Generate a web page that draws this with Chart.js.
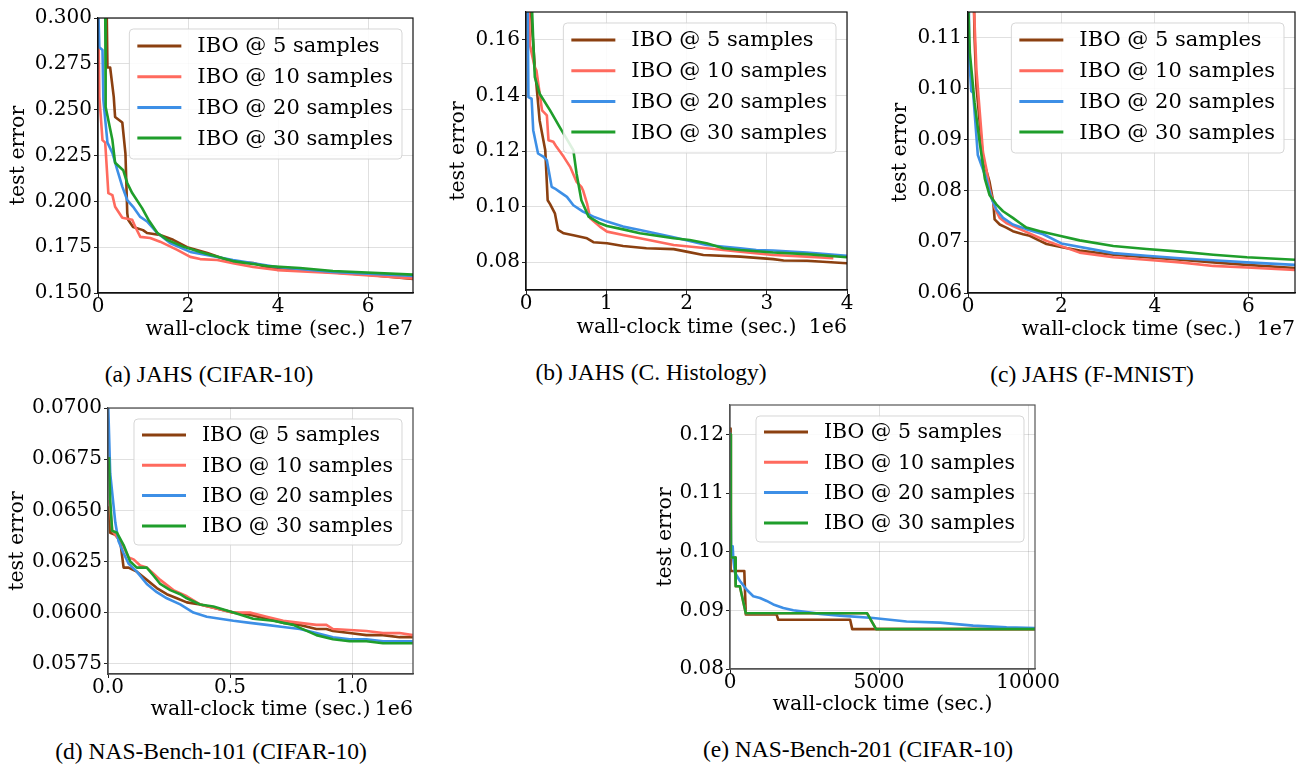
<!DOCTYPE html>
<html>
<head>
<meta charset="utf-8">
<script src="https://cdn.jsdelivr.net/npm/chart.js@4.4.1/dist/chart.umd.min.js"></script>
<style>
  html, body { margin: 0; padding: 0; background: #fff; }
  body { width: 1298px; height: 766px; position: relative; overflow: hidden; }
  canvas { position: absolute; }
  .cap { position: absolute; font-family: 'Liberation Serif', 'Times New Roman', serif; font-size: 23.5px;
         line-height: 24px; white-space: nowrap; transform: translateX(-50%); color: #000; }
</style>
</head>
<body>
<div class="cap" style="left:209px; top:362px">(a) JAHS (CIFAR-10)</div>
<div class="cap" style="left:651px; top:360px">(b) JAHS (C. Histology)</div>
<div class="cap" style="left:1092px; top:362px">(c) JAHS (F-MNIST)</div>
<div class="cap" style="left:211px; top:739px">(d) NAS-Bench-101 (CIFAR-10)</div>
<div class="cap" style="left:858px; top:737px">(e) NAS-Bench-201 (CIFAR-10)</div>

<script>
// 系列名と色
const seriesLabels = ['IBO @ 5 samples', 'IBO @ 10 samples', 'IBO @ 20 samples', 'IBO @ 30 samples'];
const seriesColors = ['#8b4010', '#ff6a5e', '#3d8fe6', '#1f9e2b'];

// (a) JAHS CIFAR-10 (時間は 1e7 秒単位)
const aTime5  = [0.19, 0.21, 0.27, 0.35, 0.38, 0.54, 0.61, 0.65, 0.67, 0.78, 1.0, 1.09, 1.38, 1.67, 1.98, 2.43, 3.0, 3.45, 3.76, 4.49, 5.98, 7.0];
const aErr5   = [0.31, 0.273, 0.273, 0.257, 0.246, 0.243, 0.226, 0.1936, 0.190, 0.186, 0.1843, 0.1827, 0.1816, 0.179, 0.175, 0.1718, 0.1669, 0.1663, 0.164, 0.1625, 0.160, 0.1576];
const aTime10 = [0.0, 0.03, 0.10, 0.16, 0.23, 0.32, 0.38, 0.54, 0.76, 0.83, 0.94, 1.16, 1.38, 1.76, 2.05, 2.27, 2.65, 3.0, 3.45, 3.98, 5.22, 7.0];
const aErr10  = [0.31, 0.257, 0.2334, 0.232, 0.2045, 0.2034, 0.197, 0.191, 0.190, 0.186, 0.1806, 0.180, 0.178, 0.1735, 0.1697, 0.1685, 0.168, 0.1663, 0.1642, 0.1625, 0.161, 0.158];
const aTime20 = [0.0, 0.03, 0.10, 0.12, 0.21, 0.32, 0.43, 0.54, 0.65, 0.78, 0.94, 1.09, 1.32, 1.60, 2.05, 2.65, 3.0, 3.98, 5.22, 7.0];
const aErr20  = [0.31, 0.284, 0.2825, 0.255, 0.232, 0.2264, 0.217, 0.208, 0.2007, 0.197, 0.1915, 0.189, 0.1827, 0.1773, 0.1724, 0.1696, 0.168, 0.1642, 0.1615, 0.1593];
const aTime30 = [0.16, 0.17, 0.32, 0.38, 0.56, 0.65, 0.76, 0.98, 1.12, 1.32, 1.54, 1.89, 2.27, 3.0, 3.76, 4.49, 5.22, 7.0];
const aErr30  = [0.31, 0.2515, 0.2334, 0.221, 0.217, 0.210, 0.2045, 0.1963, 0.190, 0.1827, 0.179, 0.1753, 0.1724, 0.1674, 0.1647, 0.1636, 0.162, 0.160];
const aXTicks = [0, 2, 4, 6];
const aYTicks = [0.150, 0.175, 0.200, 0.225, 0.250, 0.275, 0.300];

// (b) JAHS C. Histology (1e6 秒単位)
const bTime5  = [0.05, 0.11, 0.17, 0.24, 0.27, 0.30, 0.36, 0.40, 0.47, 0.59, 0.76, 0.84, 1.01, 1.21, 1.50, 1.84, 2.0, 2.21, 2.67, 3.08, 3.21, 3.50, 4.0];
const bErr5   = [0.175, 0.1502, 0.1310, 0.1203, 0.1023, 0.1009, 0.0976, 0.0916, 0.0904, 0.0897, 0.0886, 0.0872, 0.0868, 0.0858, 0.0850, 0.0847, 0.0838, 0.0826, 0.0820, 0.0811, 0.0806, 0.0805, 0.0796];
const bTime10 = [0.03, 0.05, 0.11, 0.13, 0.20, 0.26, 0.28, 0.34, 0.38, 0.47, 0.55, 0.63, 0.69, 0.71, 0.76, 0.80, 0.92, 1.01, 1.21, 1.42, 1.84, 2.25, 2.67, 3.08, 3.50, 3.83];
const bErr10  = [0.175, 0.158, 0.150, 0.149, 0.1346, 0.1328, 0.1239, 0.1233, 0.1215, 0.1179, 0.1143, 0.1089, 0.1071, 0.1059, 0.1012, 0.0958, 0.0928, 0.0910, 0.0898, 0.0886, 0.0862, 0.0850, 0.0838, 0.0826, 0.0820, 0.0814];
const bTime20 = [0.02, 0.03, 0.07, 0.09, 0.15, 0.22, 0.26, 0.32, 0.36, 0.42, 0.51, 0.59, 0.71, 0.84, 1.01, 1.21, 1.42, 1.84, 2.25, 2.67, 2.87, 3.08, 3.50, 4.0];
const bErr20  = [0.175, 0.1394, 0.1388, 0.1275, 0.1191, 0.1179, 0.1167, 0.1071, 0.1065, 0.1053, 0.1035, 0.1005, 0.0982, 0.0964, 0.0946, 0.0928, 0.0916, 0.0890, 0.0862, 0.0850, 0.0844, 0.0842, 0.0835, 0.0823];
const bTime30 = [0.07, 0.09, 0.11, 0.17, 0.30, 0.42, 0.59, 0.63, 0.69, 0.78, 0.92, 1.01, 1.21, 1.42, 1.84, 2.04, 2.25, 2.46, 2.67, 3.08, 3.50, 4.0];
const bErr30  = [0.175, 0.1597, 0.1466, 0.1406, 0.1346, 0.1286, 0.1203, 0.1119, 0.1023, 0.0964, 0.0940, 0.0930, 0.0918, 0.0904, 0.0886, 0.0880, 0.0868, 0.0850, 0.0844, 0.0835, 0.0829, 0.0818];
const bXTicks = [0, 1, 2, 3, 4];
const bYTicks = [0.08, 0.10, 0.12, 0.14, 0.16];

// (c) JAHS F-MNIST (1e7 秒単位)
const cTime5  = [0.12, 0.14, 0.18, 0.32, 0.46, 0.54, 0.57, 0.68, 0.82, 0.96, 1.18, 1.32, 1.54, 1.68, 2.04, 2.39, 3.11, 3.82, 4.54, 5.25, 5.97, 7.0];
const cErr5   = [0.12, 0.1102, 0.1005, 0.0863, 0.0818, 0.0779, 0.0744, 0.0734, 0.0728, 0.0721, 0.0715, 0.0712, 0.0702, 0.0696, 0.0689, 0.0683, 0.0675, 0.0670, 0.0665, 0.0660, 0.0655, 0.0649];
const cTime10 = [0.11, 0.18, 0.32, 0.39, 0.46, 0.57, 0.68, 0.82, 1.11, 1.68, 2.39, 3.11, 3.82, 4.54, 5.25, 5.97, 7.0];
const cErr10  = [0.12, 0.1037, 0.0876, 0.0844, 0.0805, 0.0767, 0.0747, 0.0737, 0.0725, 0.0702, 0.0679, 0.0670, 0.0665, 0.0660, 0.0653, 0.0650, 0.0645];
const cTime20 = [0.0, 0.02, 0.07, 0.11, 0.21, 0.39, 0.50, 0.61, 0.75, 0.96, 1.25, 1.61, 2.0, 3.11, 3.82, 4.54, 5.25, 5.97, 7.0];
const cErr20  = [0.118, 0.107, 0.0995, 0.0992, 0.0870, 0.0824, 0.0786, 0.0763, 0.0747, 0.0734, 0.0725, 0.0715, 0.0697, 0.0678, 0.0673, 0.0668, 0.0664, 0.0660, 0.0655];
const cTime30 = [0.0, 0.04, 0.14, 0.25, 0.36, 0.46, 0.61, 0.75, 0.96, 1.11, 1.25, 1.54, 1.96, 2.39, 3.11, 3.82, 4.54, 5.25, 5.97, 7.0];
const cErr30  = [0.118, 0.107, 0.0973, 0.0895, 0.0824, 0.0792, 0.0773, 0.0760, 0.0747, 0.0737, 0.0728, 0.0721, 0.0712, 0.0703, 0.0692, 0.0686, 0.0681, 0.0675, 0.0670, 0.0665];
const cXTicks = [0, 2, 4, 6];
const cYTicks = [0.06, 0.07, 0.08, 0.09, 0.10, 0.11];

// (d) NAS-Bench-101 (1e6 秒単位)
const dTime5  = [0.004, 0.009, 0.030, 0.050, 0.064, 0.084, 0.118, 0.159, 0.200, 0.241, 0.282, 0.323, 0.377, 0.445, 0.514, 0.582, 0.650, 0.718, 0.786, 0.854, 0.895, 0.922, 0.990, 1.059, 1.127, 1.195, 1.249];
const dErr5   = [0.0652, 0.0639, 0.0638, 0.0635, 0.0622, 0.0622, 0.0620, 0.0616, 0.0612, 0.0609, 0.0607, 0.0605, 0.0604, 0.0602, 0.0600, 0.0599, 0.0597, 0.0595, 0.0594, 0.0592, 0.0592, 0.0591, 0.0590, 0.0589, 0.0589, 0.0588, 0.0588];
const dTime10 = [0.006, 0.017, 0.037, 0.057, 0.084, 0.105, 0.132, 0.159, 0.187, 0.214, 0.268, 0.323, 0.377, 0.445, 0.514, 0.582, 0.650, 0.718, 0.786, 0.854, 0.895, 0.922, 1.059, 1.127, 1.195, 1.249];
const dErr10  = [0.0655, 0.0640, 0.0637, 0.0634, 0.0627, 0.0626, 0.0623, 0.0622, 0.0619, 0.0616, 0.0611, 0.0608, 0.0604, 0.0602, 0.0600, 0.0600, 0.0598, 0.0596, 0.0595, 0.0594, 0.0594, 0.0592, 0.0591, 0.0590, 0.0590, 0.0589];
const dTime20 = [0.0, 0.009, 0.023, 0.030, 0.043, 0.064, 0.084, 0.118, 0.159, 0.200, 0.241, 0.296, 0.350, 0.405, 0.459, 0.514, 0.582, 0.650, 0.718, 0.786, 0.854, 0.922, 0.990, 1.059, 1.127, 1.249];
const dErr20  = [0.0705, 0.0668, 0.0652, 0.0644, 0.0635, 0.0629, 0.0624, 0.0620, 0.0614, 0.0610, 0.0607, 0.0604, 0.0600, 0.0598, 0.0597, 0.0596, 0.0595, 0.0594, 0.0593, 0.0592, 0.0590, 0.0588, 0.0587, 0.0587, 0.0586, 0.0586];
const dTime30 = [0.004, 0.009, 0.017, 0.037, 0.064, 0.091, 0.118, 0.146, 0.159, 0.187, 0.214, 0.255, 0.296, 0.323, 0.377, 0.432, 0.514, 0.595, 0.677, 0.759, 0.854, 0.922, 0.990, 1.059, 1.127, 1.249];
const dErr30  = [0.0676, 0.0655, 0.0640, 0.0639, 0.0633, 0.0625, 0.0622, 0.0622, 0.0622, 0.0618, 0.0614, 0.0611, 0.0609, 0.0607, 0.0604, 0.0603, 0.0600, 0.0597, 0.0596, 0.0594, 0.0589, 0.0587, 0.0586, 0.0586, 0.0585, 0.0585];
const dXTicks = [0, 0.5, 1.0];
const dYTicks = [0.0575, 0.0600, 0.0625, 0.0650, 0.0675, 0.0700];

// (e) NAS-Bench-201 (秒)
const eTime5  = [0, 20, 480, 530, 1560, 1620, 4030, 4100, 10230];
const eErr5   = [0.121, 0.0967, 0.0967, 0.0893, 0.0893, 0.0884, 0.0884, 0.0868, 0.0868];
const eTime10 = [0, 30, 170, 190, 330, 530, 4600, 4900, 10230];
const eErr10  = [0.120, 0.0990, 0.0990, 0.0941, 0.0941, 0.0895, 0.0895, 0.0868, 0.0868];
const eTime20 = [0, 34, 90, 112, 168, 335, 560, 781, 1006, 1230, 1453, 1788, 2123, 2571, 3017, 3688, 4805, 5923, 7040, 8156, 9276, 10230];
const eErr20  = [0.1203, 0.1009, 0.1009, 0.0987, 0.0964, 0.0950, 0.0935, 0.0924, 0.0921, 0.0916, 0.0910, 0.0904, 0.0900, 0.0897, 0.0894, 0.0891, 0.0887, 0.0881, 0.0879, 0.0874, 0.0871, 0.0870];
const eTime30 = [0, 30, 170, 190, 330, 530, 4600, 4900, 10230];
const eErr30  = [0.120, 0.0990, 0.0990, 0.0941, 0.0941, 0.0895, 0.0895, 0.0868, 0.0868];
const eXTicks = [0, 5000, 10000];
const eYTicks = [0.08, 0.09, 0.10, 0.11, 0.12];

const FONT = 'DejaVu Serif';
const FS = 20;       // 目盛りの文字サイズ
const TITLE_FS = 20.5;

// 枠線・オフセット表記・凡例を描くプラグイン
const framePlugin = {
    id: 'frame',
    afterDraw(chart, args, opts) {
        const { ctx, chartArea: a } = chart;
        ctx.save();
        ctx.strokeStyle = opts.color;
        ctx.lineWidth = 1.2;
        ctx.strokeRect(a.left, a.top, a.right - a.left, a.bottom - a.top);

        ctx.fillStyle = '#000';
        if (opts.offsetText) {
            ctx.font = `${TITLE_FS}px "${FONT}"`;
            ctx.textAlign = 'right';
            ctx.textBaseline = 'middle';
            ctx.fillText(opts.offsetText, a.right, chart.scales.x.bottom - 15);
        }

        // 凡例
        ctx.font = `${opts.legendFont}px "${FONT}"`;
        const ds = chart.data.datasets;
        const textW = Math.max(...ds.map(d => ctx.measureText(d.label).width));
        const w = 8 + 44 + 16 + textW + 9;
        const h = opts.legendH;
        const x = a.right - 11 - w;
        const y = a.top + 11;
        ctx.beginPath();
        ctx.roundRect(x, y, w, h, 4);
        ctx.fillStyle = 'rgba(255,255,255,0.85)';
        ctx.fill();
        ctx.strokeStyle = 'rgba(210,210,210,0.9)';
        ctx.lineWidth = 1;
        ctx.stroke();
        ds.forEach((d, i) => {
            const cy = y + opts.firstRow + i * opts.rowGap;
            ctx.beginPath();
            ctx.moveTo(x + 8, cy);
            ctx.lineTo(x + 52, cy);
            ctx.strokeStyle = d.borderColor;
            ctx.lineWidth = 3;
            ctx.stroke();
            ctx.fillStyle = '#000';
            ctx.textAlign = 'left';
            ctx.textBaseline = 'middle';
            ctx.fillText(d.label, x + 68, cy + 1);
        });
        ctx.restore();
    }
};

function toPoints(xs, ys) {
    return xs.map((x, i) => ({ x: x, y: ys[i] }));
}

function makePanel(p) {
    const canvas = document.createElement('canvas');
    canvas.width = p.w;
    canvas.height = p.h;
    canvas.style.left = p.left + 'px';
    canvas.style.top = p.top + 'px';
    document.body.appendChild(canvas);

    const datasets = p.series.map((s, i) => ({
        label: seriesLabels[i],
        data: toPoints(s[0], s[1]),
        borderColor: seriesColors[i],
        borderWidth: 2.6,
        pointRadius: 0,
        fill: false,
        tension: 0,
        borderJoinStyle: 'round',
        order: 4 - i
    }));

    const gridColor = 'rgba(0,0,0,0.12)';
    new Chart(canvas, {
        type: 'line',
        data: { datasets: datasets },
        options: {
            responsive: false,
            devicePixelRatio: 1,
            animation: false,
            layout: { padding: { left: 0, top: p.padTop, right: p.padRight, bottom: 0 } },
            plugins: {
                legend: { display: false },
                tooltip: { enabled: false },
                frame: {
                    color: p.frameColor, offsetText: p.offsetText,
                    legendFont: p.legendFont, legendH: p.legendH, firstRow: p.firstRow, rowGap: p.rowGap
                }
            },
            scales: {
                x: {
                    type: 'linear',
                    min: p.xMin, max: p.xMax,
                    afterBuildTicks: scale => { scale.ticks = p.xTicks.map(v => ({ value: v })); },
                    afterFit: scale => { scale.height = p.xH; },
                    ticks: {
                        color: '#000', padding: 0, maxRotation: 0, autoSkip: false,
                        font: { family: FONT, size: FS, lineHeight: 1 },
                        callback: v => Number(v).toFixed(p.xDec)
                    },
                    grid: { color: gridColor, tickLength: 4, tickColor: '#222', lineWidth: 1 },
                    border: { color: p.frameColor, width: 1.2 },
                    title: {
                        display: true, text: 'wall-clock time (sec.)', color: '#000',
                        font: { family: FONT, size: TITLE_FS, lineHeight: 24 / TITLE_FS },
                        padding: { top: 0, bottom: 3 }
                    }
                },
                y: {
                    type: 'linear',
                    min: p.yMin, max: p.yMax,
                    afterBuildTicks: scale => { scale.ticks = p.yTicks.map(v => ({ value: v })); },
                    afterFit: scale => { scale.width = p.yW; },
                    ticks: {
                        color: '#000', padding: 2, autoSkip: false,
                        font: { family: FONT, size: FS, lineHeight: 1 },
                        callback: v => Number(v).toFixed(p.yDec)
                    },
                    grid: { color: gridColor, tickLength: 4, tickColor: '#222', lineWidth: 1 },
                    border: { color: p.frameColor, width: 1.2 },
                    title: {
                        display: true, text: 'test error', color: '#000',
                        font: { family: FONT, size: TITLE_FS, lineHeight: 24 / TITLE_FS },
                        padding: { top: p.yTitlePad, bottom: 0 }
                    }
                }
            }
        },
        plugins: [framePlugin]
    });
}

const row1Legend = { legendFont: 21, legendH: 130, firstRow: 17, rowGap: 30.7 };
const row2Legend = { legendFont: 20.5, legendH: 126, firstRow: 16, rowGap: 30.3 };

makePanel(Object.assign({
    left: 0, top: 0, w: 430, h: 345, padTop: 18, padRight: 17, yW: 98, xH: 52, yTitlePad: 7,
    xMin: 0, xMax: 7, xTicks: aXTicks, xDec: 0, yMin: 0.15, yMax: 0.30, yTicks: aYTicks, yDec: 3,
    offsetText: '1e7', frameColor: '#111',
    series: [[aTime5, aErr5], [aTime10, aErr10], [aTime20, aErr20], [aTime30, aErr30]]
}, row1Legend));

makePanel(Object.assign({
    left: 440, top: 0, w: 430, h: 343, padTop: 12, padRight: 23, yW: 86, xH: 53, yTitlePad: 7,
    xMin: 0, xMax: 4, xTicks: bXTicks, xDec: 0, yMin: 0.07, yMax: 0.17, yTicks: bYTicks, yDec: 2,
    offsetText: '1e6', frameColor: '#111',
    series: [[bTime5, bErr5], [bTime10, bErr10], [bTime20, bErr20], [bTime30, bErr30]]
}, row1Legend));

makePanel(Object.assign({
    left: 880, top: 0, w: 418, h: 345, padTop: 8, padRight: 3, yW: 88, xH: 52, yTitlePad: 8.5,
    xMin: 0, xMax: 7, xTicks: cXTicks, xDec: 0, yMin: 0.06, yMax: 0.115, yTicks: cYTicks, yDec: 2,
    offsetText: '1e7', frameColor: '#111',
    series: [[cTime5, cErr5], [cTime10, cErr10], [cTime20, cErr20], [cTime30, cErr30]]
}, row1Legend));

makePanel(Object.assign({
    left: 0, top: 390, w: 430, h: 335, padTop: 18, padRight: 17, yW: 108, xH: 51, yTitlePad: 5.5,
    xMin: 0, xMax: 1.25, xTicks: dXTicks, xDec: 1, yMin: 0.057, yMax: 0.070, yTicks: dYTicks, yDec: 4,
    offsetText: '1e6', frameColor: '#444',
    series: [[dTime5, dErr5], [dTime10, dErr10], [dTime20, dErr20], [dTime30, dErr30]]
}, row2Legend));

makePanel(Object.assign({
    left: 640, top: 390, w: 435, h: 330, padTop: 15, padRight: 40, yW: 90, xH: 51, yTitlePad: 14,
    xMin: 0, xMax: 10230, xTicks: eXTicks, xDec: 0, yMin: 0.08, yMax: 0.125, yTicks: eYTicks, yDec: 2,
    offsetText: '', frameColor: '#555',
    series: [[eTime5, eErr5], [eTime10, eErr10], [eTime20, eErr20], [eTime30, eErr30]]
}, row2Legend));
</script>
</body>
</html>
